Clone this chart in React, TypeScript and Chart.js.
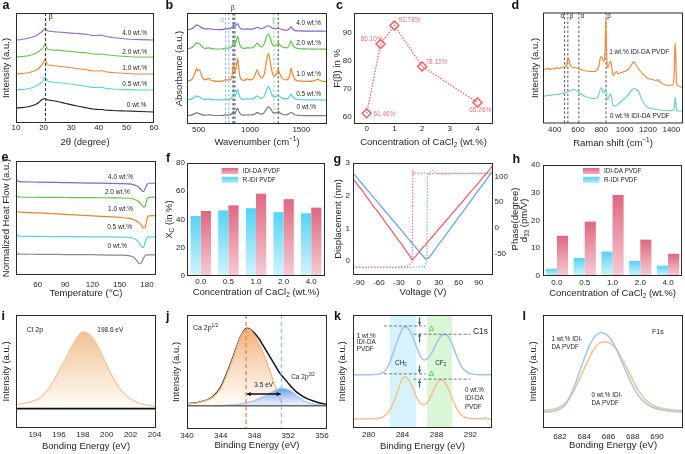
import React, { useEffect, useRef } from "react";
import { Chart, registerables } from "chart.js";

Chart.register(...registerables);

const FONT = "'Liberation Sans', Arial, Helvetica, sans-serif";
const INK = "#1e1e1e";

/* ---------------- a : XRD ---------------- */
const aTicks = [10, 20, 30, 40, 50, 60];
const aX = [10, 12, 14, 16, 17, 18, 19, 19.8, 20.5, 21, 21.7, 23, 25, 28, 32, 36, 38, 40, 41, 42, 45, 50, 55, 60];
const aY00 = [15, 15.3, 16, 17.5, 18.5, 20, 22.5, 24, 24.5, 23.5, 23, 22.5, 21.5, 19.5, 17, 15, 14, 13.5, 13.5, 13, 12.5, 12, 11.5, 11];
const aY05 = [33, 33.3, 34, 35.5, 36.5, 38, 40, 42, 46, 44, 41.5, 41, 40.5, 39.5, 38, 36.5, 35.5, 35.5, 35.8, 35, 34, 33.3, 33, 33];
const aY10 = [49, 49.3, 50, 51.5, 52.5, 54, 57, 60, 64, 61, 58, 57.5, 57, 56, 54.5, 53, 52, 52, 52.5, 51.5, 50.5, 49.5, 49, 49];
const aY20 = [66, 66.3, 67, 68.5, 69.5, 71, 73, 75, 79, 76, 73.5, 73, 72.8, 72, 71, 70, 69, 68.8, 69, 68.5, 67.5, 66.5, 66, 66];
const aY40 = [83, 83.5, 84.5, 86, 87, 88.5, 90.5, 92.5, 95, 93, 92, 91.5, 91, 90.3, 89.5, 88.5, 87.5, 87.5, 88, 87, 85.5, 84, 83.3, 83];

/* ---------------- b : FTIR ---------------- */
const bTicks = [500, 1000, 1500];
const bX = [390, 420, 450, 470, 480, 490, 510, 530, 560, 600, 615, 640, 700, 740, 765, 780, 795, 810, 825, 840, 855, 870, 880, 895, 910, 940, 975, 1000, 1030, 1050, 1070, 1085, 1110, 1140, 1160, 1180, 1200, 1220, 1235, 1260, 1275, 1290, 1320, 1360, 1385, 1400, 1415, 1440, 1500, 1560, 1620, 1660, 1700, 1750];
const bY00 = [8.5, 8.7, 9.8, 10.8, 11.3, 10.8, 10.3, 9.3, 8.8, 9.2, 9, 8.7, 8.5, 8.6, 9, 8.8, 9, 9.2, 10.5, 12.5, 11, 14, 15.7, 12, 9.5, 8.8, 9.2, 9, 9.3, 10, 11.5, 10.8, 9.8, 11.5, 15, 17.3, 15, 12, 11, 11.3, 12.3, 11.3, 9.5, 9.2, 10.5, 11.7, 10.8, 9, 8.5, 8.3, 8.3, 8.4, 8.3, 8.2];
const bY05 = [24.3, 24.5, 26, 27.5, 28, 27.5, 27, 25.5, 24.5, 25, 24.5, 24.2, 24, 24.2, 24.8, 24.5, 24.8, 25, 27, 30.5, 28, 32, 34.5, 29, 25.5, 24.5, 25, 24.8, 25.2, 26.5, 28, 27, 25.5, 28, 34, 37.3, 33, 28, 27, 27.5, 29, 27.5, 25.5, 25, 27, 29.7, 27.5, 25, 24.2, 24, 24, 24.2, 24, 23.8];
const bY10 = [43, 43.5, 47, 53, 55.5, 53, 54, 48, 44, 45.5, 44, 43, 42.5, 43, 44.5, 43.5, 44.5, 44, 48, 59.5, 52, 58, 65.5, 52, 45, 43.5, 45, 44, 45, 49, 54, 50, 46, 50, 62, 70.5, 60, 50, 48, 50, 54.5, 50, 45, 44, 48, 55.5, 50, 44, 42.8, 42.5, 43, 44.5, 42.8, 42.5];
const bY20 = [75, 75.5, 77.5, 80, 81.3, 80.5, 80, 77.5, 75.5, 76, 75.5, 75, 74.8, 75, 75.8, 75.5, 76, 76, 78, 82.3, 79, 84, 87.3, 81, 77, 75.5, 76, 75.8, 76.3, 78, 80.7, 79, 77, 80, 86.5, 90, 85, 79, 78, 79, 81.3, 79, 76.5, 76, 79, 83, 79.5, 76, 75, 74.8, 74.7, 74.8, 74.7, 74.6];
const bY40 = [94.2, 94.5, 96, 98, 99, 98.5, 97.5, 96, 94.8, 95, 94.8, 94.5, 94.2, 94.3, 95, 94.8, 95, 95.2, 96.5, 99, 97.5, 99.5, 100, 97, 95, 94.5, 94.8, 94.6, 94.8, 95.5, 96.5, 96, 95, 96, 97.5, 98, 97, 95.5, 95, 95.2, 95.8, 95, 94, 93.5, 95, 97, 95, 93.2, 92.8, 92.6, 92.6, 92.7, 92.6, 92.5];
const bAlphaLines = [763, 795, 858];
const bBetaLines = [835, 845, 1275];
const bGammaLines = [1234];

/* ---------------- c : F(beta) ---------------- */
const cTicksX = [0, 1, 2, 3, 4];
const cTicksY = [60, 70, 80, 90];
const cConc = [0, 0.5, 1, 2, 4];
const cFbeta = [61.46, 86.1, 92.78, 78.12, 65.26];

/* ---------------- d : Raman ---------------- */
const dTicks = [400, 600, 800, 1000, 1200, 1400];
const dOrX = [300, 320, 340, 360, 380, 400, 420, 440, 460, 480, 500, 510, 520, 530, 545, 560, 580, 600, 620, 650, 700, 740, 760, 780, 790, 800, 810, 820, 828, 834, 838, 842, 848, 855, 865, 875, 882, 890, 900, 915, 930, 945, 970, 1000, 1030, 1050, 1070, 1080, 1090, 1100, 1130, 1160, 1200, 1240, 1270, 1285, 1300, 1340, 1380, 1410, 1425, 1432, 1438, 1445, 1470, 1500];
const dOrY = [55, 54, 55.5, 54, 55, 54.5, 56, 55, 56.5, 56, 58, 63, 66, 60, 57, 55.5, 56, 55, 54, 53, 52, 52, 53, 58, 65, 67, 65, 62, 66, 80, 105, 90, 62, 56, 58, 62, 62, 55, 48, 50, 52, 50, 51, 52, 54, 57, 61, 62, 60, 58, 53, 49, 45, 44, 43, 44, 42, 39, 38, 38.5, 50, 81, 70, 40, 37, 36];
const dCyX = [300, 340, 380, 420, 460, 500, 530, 560, 590, 620, 660, 700, 740, 770, 785, 800, 812, 820, 830, 840, 845, 850, 860, 872, 880, 890, 900, 920, 950, 980, 1010, 1040, 1070, 1085, 1100, 1120, 1140, 1160, 1200, 1250, 1300, 1350, 1400, 1425, 1432, 1438, 1445, 1470, 1500];
const dCyY = [27, 28, 28.5, 29, 30, 31, 32.5, 34, 32.5, 30, 27, 25.5, 25, 26, 32, 36, 32, 30.5, 33, 33.5, 30, 24, 25, 29, 29.5, 24, 18, 17.5, 20, 23, 26, 30, 34.5, 35, 34, 32, 26, 21, 16, 14.5, 13.5, 13, 12.8, 15, 26, 22, 13, 12.5, 12.5];
const dLines = [485, 513, 607, 840];

/* ---------------- e : DSC ---------------- */
const eTicks = [60, 90, 120, 150, 180];
const eX = [36.5, 37, 40, 60, 90, 120, 150, 160, 165, 168, 170, 172, 174, 176, 178, 180, 182, 190];
const eY00 = [25.7, 21.3, 21, 20.8, 20.6, 20.4, 20, 19.5, 18, 15.5, 13, 11.4, 12.5, 16.5, 19.5, 20.2, 20.3, 20.3];
const eY05 = [44, 40, 39, 38.8, 38.6, 38.4, 38.2, 38, 37, 35.5, 34, 31.5, 28.5, 27.5, 33, 37.5, 38.3, 38.3];
const eY10 = [65.7, 64, 63.3, 62.5, 61, 59.5, 58, 57, 55.7, 54.5, 53.5, 52, 50, 47.5, 48, 56, 59.5, 59.7];
const eY20 = [80.7, 79, 78.5, 78.2, 78, 77.8, 77.5, 77.2, 76.5, 75.5, 74.5, 73, 71, 68.5, 69, 76, 78.2, 78.3];
const eY40 = [98, 95, 94, 93.5, 93, 92.5, 92, 91.7, 91, 90, 89, 87.5, 85.5, 84, 86.5, 91, 92.3, 92.3];

/* ---------------- f : crystallinity ---------------- */
const fCats = ["0.0", "0.5", "1.0", "2.0", "4.0"];
const fTicks = [0, 20, 40, 60, 80];
const fRIDI = [42.5, 46.5, 48, 45.2, 44.4];
const fIDIDA = [46, 50, 58.3, 54.4, 48.4];

/* ---------------- g : PFM butterfly ---------------- */
const gTicksX = [-90, -60, -30, 0, 30, 60, 90];
const gTicksY = [0, 1, 2, 3];
const gTicksY2 = [-50, 0, 50, 100];
const gV = [-99, -95, -90, -85, -80, -75, -70, -65, -60, -55, -50, -45, -40, -35, -30, -25, -20, -15, -10, -5, 0, 5, 10, 15, 20, 25, 30, 35, 40, 45, 50, 55, 60, 65, 70, 75, 80, 85, 90, 95, 100, 105, 110];
const gDispRed = [2.52, 2.42, 2.27, 2.16, 2.0, 1.87, 1.72, 1.6, 1.46, 1.33, 1.18, 1.05, 0.91, 0.76, 0.63, 0.5, 0.34, 0.2, 0.04, 0.15, 0.27, 0.4, 0.5, 0.63, 0.74, 0.86, 0.99, 1.1, 1.22, 1.33, 1.46, 1.57, 1.7, 1.8, 1.93, 2.05, 2.17, 2.28, 2.4, 2.53, 2.64, 2.76, 2.9];
const gDispBlue = [2.68, 2.6, 2.47, 2.36, 2.23, 2.12, 1.99, 1.88, 1.75, 1.64, 1.51, 1.4, 1.27, 1.16, 1.03, 0.92, 0.79, 0.67, 0.55, 0.43, 0.3, 0.19, 0.07, 0.1, 0.24, 0.38, 0.52, 0.65, 0.79, 0.93, 1.07, 1.21, 1.35, 1.48, 1.62, 1.76, 1.9, 2.04, 2.18, 2.31, 2.45, 2.59, 2.73];
const gPhRedX = [-99, -90, -80, -70, -60, -50, -40, -30, -25, -20, -15, -12, -10, -9, -8, -6, -3, 0, 10, 20, 30, 40, 50, 60, 70, 80, 90, 100, 110];
const gPhRedY = [-75.5, -75, -76, -75, -75.5, -75, -76, -75, -74.5, -73, -72, -68, -66, 112, 104, 107, 105, 106, 106, 104.5, 106, 105.5, 106, 106, 105.5, 106, 106, 106, 106];
const gPhBlueX = [-99, -90, -80, -70, -60, -50, -40, -30, -20, -10, 0, 5, 8, 10, 12, 13, 16, 20, 25, 30, 40, 50, 60, 70, 80, 90, 100, 110];
const gPhBlueY = [-76, -76.5, -76, -76.5, -76, -76, -76.5, -76, -76, -75.5, -75, -73, -76, -70, -60, 100, 108, 112, 106, 104, 104.5, 105, 105, 105, 105, 105, 105, 105];

/* ---------------- h : d33 ---------------- */
const hCats = ["0.0", "0.5", "1.0", "2.0", "4.0"];
const hTicks = [0, 10, 20, 30, 40];
const hRIDI = [2.6, 6.5, 8.8, 5.4, 3.7];
const hIDIDA = [14.5, 19.6, 29.2, 13.1, 8];

/* ---------------- i : Cl 2p ---------------- */
const iTicks = [194, 196, 198, 200, 202, 204];
const iX = [192.4, 193, 194, 194.5, 195, 195.5, 196, 196.5, 197, 197.5, 198, 198.5, 199, 199.5, 200, 200.5, 201, 201.5, 202, 202.5, 203, 203.5, 204.1];
const iY = [23.5, 24.5, 27.5, 31, 37, 46, 57, 68, 80, 90, 95.8, 94, 87, 76, 63, 51, 41, 34, 29, 26, 23.8, 22.6, 21.7];
const iBase = 19.3;

/* ---------------- j : Ca 2p ---------------- */
const jTicks = [340, 344, 348, 352, 356];
const jX = [340, 341, 342, 343, 344, 345, 345.5, 346, 346.5, 347.1, 347.5, 348, 348.5, 349, 349.5, 350, 350.5, 351, 351.5, 352, 352.5, 353, 353.5, 354, 355, 356, 356.7];
const jEnv = [25.3, 26, 28, 32, 42, 62, 73, 85, 95, 101, 100, 96, 91, 84, 77, 70, 63, 56, 51, 46, 41, 37, 34, 31.5, 28, 25.5, 24.5];
const jOrX = [340, 341, 342, 343, 344, 345, 345.5, 346, 346.5, 347.1, 347.5, 348, 348.5, 349, 349.5, 350, 350.5, 351, 351.3];
const jOrY = [25.3, 26, 28, 31.5, 41, 61, 72, 84.5, 94.5, 100.5, 99.5, 94, 86, 77, 66, 54, 42, 30, 23.3];
const jBlX = [343, 344, 345, 346, 347, 348, 349, 350, 350.5, 351.2, 352, 352.5, 353, 353.5, 354, 355, 356, 356.7];
const jBlY = [23.3, 23.5, 24, 24.8, 26, 28.5, 32, 36.5, 39, 41, 39.5, 37, 33.5, 30, 27.5, 25, 24, 23.5];
const jBase = 23.3;
const jPeaks = [347, 351.2];

/* ---------------- k : C1s ---------------- */
const kTicks = [280, 284, 288, 292];
const kX = [278.15, 279, 280, 281, 281.5, 282, 282.5, 283, 283.5, 284, 284.3, 284.7, 285.2, 285.7, 286.2, 286.6, 287, 287.5, 288, 288.5, 288.9, 289.3, 289.8, 290.3, 290.8, 291.3, 292, 293, 293.5, 293.8, 294.1, 294.55];
const kY1 = [53.3, 53.3, 53.4, 53.8, 54.8, 58, 66, 78, 90, 99.5, 101.5, 99.5, 91, 80, 70.5, 68.3, 70, 76, 85, 92, 94, 92.5, 85, 74, 64, 58, 54.5, 53.5, 53.4, 53.4, 53.3, 53.3];
const kY0 = [9, 9, 9.2, 9.5, 10.5, 13, 18, 27, 39, 50, 51.5, 48.5, 40, 30, 24, 23.5, 26.5, 35, 44, 48.3, 46.5, 41, 31, 21, 14, 11, 9.5, 9.2, 9.3, 10.3, 9.2, 9];
const kBandCH2 = [282.5, 285.6];
const kBandCF2 = [286.9, 289.85];

/* ---------------- l : F1s ---------------- */
const lTicks = [682, 684, 686, 688, 690];
const lX = [680.6, 681, 681.5, 682, 682.5, 683, 683.5, 684, 684.5, 685, 685.4, 685.8, 686.2, 686.6, 687, 687.5, 688, 688.5, 689, 689.5, 690, 691, 692.15];
const lY1 = [15.8, 16.1, 17, 19, 24, 36, 52, 69, 84, 93, 95.3, 93.5, 88.5, 80, 69, 55, 42, 32, 25.5, 21.5, 19.3, 17, 16];
const lY0 = [17.5, 18, 19, 21, 25.5, 34, 46, 59, 72, 82, 85.5, 85.8, 84, 79.5, 71.5, 60, 48, 37, 29, 24, 21, 18.5, 17.3];

/* ---------------- helpers ---------------- */
type Seg = { t: string; s?: "sub" | "sup" };
const sub = (t: string): Seg => ({ t, s: "sub" });
const sup = (t: string): Seg => ({ t, s: "sup" });
const TX = (t: string): Seg[] => [{ t }];

function drawRich(ctx: any, segs: any, x: number, y: number, size: number, color: string, align = "center", rot = 0, bold = false) {
  const list: Seg[] = typeof segs === "string" ? [{ t: segs }] : segs;
  ctx.save();
  ctx.translate(x, y);
  ctx.rotate(rot);
  ctx.fillStyle = color;
  ctx.textBaseline = "middle";
  ctx.textAlign = "left";
  const font = (s: number) => `${bold ? "bold " : ""}${s}px ${FONT}`;
  let total = 0;
  const widths = list.map((sg) => {
    ctx.font = font(sg.s ? size * 0.68 : size);
    const w = ctx.measureText(sg.t).width;
    total += w;
    return w;
  });
  let cx = align === "left" ? 0 : align === "right" ? -total : -total / 2;
  list.forEach((sg, i) => {
    ctx.font = font(sg.s ? size * 0.68 : size);
    const dy = sg.s === "sub" ? size * 0.3 : sg.s === "sup" ? -size * 0.33 : 0;
    ctx.fillText(sg.t, cx, dy);
    cx += widths[i];
  });
  ctx.restore();
}

function H(c: any, yId = "y") {
  const ctx = c.ctx;
  const X = c.scales.x;
  const Y = c.scales[yId];
  const a = c.chartArea;
  const px = (v: number) => X.getPixelForValue(v);
  const py = (v: number) => Y.getPixelForValue(v);
  return {
    ctx,
    a,
    px,
    py,
    text(s: any, x: number, y: number, size = 6.5, color = INK, align = "center", bold = false) {
      drawRich(ctx, s, px(x), py(y), size, color, align, 0, bold);
    },
    vline(x: number, color: string, dash: number[] = [3, 2], w = 1) {
      ctx.save();
      ctx.strokeStyle = color;
      ctx.lineWidth = w;
      ctx.setLineDash(dash);
      ctx.beginPath();
      ctx.moveTo(px(x), a.top);
      ctx.lineTo(px(x), a.bottom);
      ctx.stroke();
      ctx.restore();
    },
    hline(y: number, x0: number, x1: number, color: string, dash: number[] = [], w = 1) {
      ctx.save();
      ctx.strokeStyle = color;
      ctx.lineWidth = w;
      ctx.setLineDash(dash);
      ctx.beginPath();
      ctx.moveTo(px(x0), py(y));
      ctx.lineTo(px(x1), py(y));
      ctx.stroke();
      ctx.restore();
    },
    band(x0: number, x1: number, color: string) {
      ctx.save();
      ctx.fillStyle = color;
      ctx.fillRect(px(x0), a.top, px(x1) - px(x0), a.bottom - a.top);
      ctx.restore();
    },
    arrow(x0: number, y0: number, x1: number, y1: number, color: string, w = 1.2, hs = 4, both = false) {
      const X0 = px(x0), Y0 = py(y0), X1 = px(x1), Y1 = py(y1);
      ctx.save();
      ctx.strokeStyle = color;
      ctx.fillStyle = color;
      ctx.lineWidth = w;
      ctx.setLineDash([]);
      ctx.beginPath();
      ctx.moveTo(X0, Y0);
      ctx.lineTo(X1, Y1);
      ctx.stroke();
      const head = (ax: number, ay: number, bx: number, by: number) => {
        const ang = Math.atan2(by - ay, bx - ax);
        ctx.beginPath();
        ctx.moveTo(bx, by);
        ctx.lineTo(bx - hs * Math.cos(ang - 0.5), by - hs * Math.sin(ang - 0.5));
        ctx.lineTo(bx - hs * Math.cos(ang + 0.5), by - hs * Math.sin(ang + 0.5));
        ctx.closePath();
        ctx.fill();
      };
      head(X0, Y0, X1, Y1);
      if (both) head(X1, Y1, X0, Y0);
      ctx.restore();
    },
  };
}

const pts = (xs: number[], ys: number[]) => xs.map((x, i) => ({ x, y: ys[i] }));
const ln = (xs: number[], ys: number[], color: string, extra: any = {}) => ({
  data: pts(xs, ys),
  borderColor: color,
  backgroundColor: color,
  borderWidth: 1.2,
  pointRadius: 0,
  tension: 0,
  cubicInterpolationMode: "monotone",
  fill: false,
  ...extra,
});

function vGrad(c: any, yTop: number, yBot: number, cTop: string, cBot: string, yId = "y") {
  const ch = c.chart;
  if (!ch.chartArea || !ch.scales[yId]) return cTop;
  const Y = ch.scales[yId];
  const g = ch.ctx.createLinearGradient(0, Y.getPixelForValue(yTop), 0, Y.getPixelForValue(yBot));
  g.addColorStop(0, cTop);
  g.addColorStop(1, cBot);
  return g;
}

const PK_T = "#e0687e";
const PK_B = "#f6ccd6";
const CY_T = "#55d3f5";
const CY_B = "#d0f4fd";

const barGrad = (top: string, bot: string) => (c: any) => {
  const ch = c.chart;
  if (!ch.chartArea || typeof c.raw !== "number") return top;
  const Y = ch.scales.y;
  const g = ch.ctx.createLinearGradient(0, Y.getPixelForValue(c.raw), 0, Y.getPixelForValue(0));
  g.addColorStop(0, top);
  g.addColorStop(1, bot);
  return g;
};

function legend2(ctx: any, x: number, y: number) {
  const items = [
    { t: "IDI-DA PVDF", top: PK_T, bot: "#f2aebd" },
    { t: "R-IDI PVDF", top: CY_T, bot: "#aeeafa" },
  ];
  items.forEach((it, i) => {
    const yy = y + i * 8.8;
    const g = ctx.createLinearGradient(0, yy, 0, yy + 6);
    g.addColorStop(0, it.top);
    g.addColorStop(1, it.bot);
    ctx.fillStyle = g;
    ctx.fillRect(x, yy, 16.5, 6);
    drawRich(ctx, it.t, x + 21, yy + 3.2, 6.3, INK, "left");
  });
}

const CONC: Seg[] = [{ t: "Concentration of CaCl" }, sub("2"), { t: " (wt.%)" }];
const fmt = (v: any) => String(v);

function mkScale(def: any, kind: "x" | "y" | "y2", size: number, pad: number) {
  const { ticks: tickVals, fmt: f, hideTicks, ...rest } = def;
  const sc: any = {
    ...rest,
    position: kind === "x" ? "bottom" : kind === "y" ? "left" : "right",
    grid: { display: false, drawTicks: false, tickLength: 0 },
    border: { display: false },
    title: { display: false },
    ticks: {
      display: !hideTicks,
      padding: pad,
      color: INK,
      font: { family: FONT, size: 8 },
      autoSkip: false,
      maxRotation: 0,
      minRotation: 0,
    },
    afterFit: (s: any) => {
      if (kind === "x") s.height = size;
      else s.width = size;
      s.paddingLeft = 0;
      s.paddingRight = 0;
      s.paddingTop = 0;
      s.paddingBottom = 0;
    },
  };
  if (f) sc.ticks.callback = (v: any) => f(v);
  if (tickVals) sc.afterBuildTicks = (s: any) => { s.ticks = tickVals.map((v: number) => ({ value: v })); };
  return sc;
}

/* ---------------- panel specs ---------------- */
const SPECS: any[] = [
  {
    id: "a", type: "line", canvas: [0, 0, 164, 150], area: [16, 13, 154, 123],
    xTitle: TX("2θ (degree)"), xTitleY: 142.8, yTitle: TX("Intensity (a.u.)"), yTitleX: 6, xPad: 0,
    x: { type: "linear", min: 10, max: 60, ticks: aTicks, fmt },
    y: { type: "linear", min: 0, max: 110, hideTicks: true },
    datasets: [ln(aX, aY00, "#222"), ln(aX, aY05, "#55d6dc"), ln(aX, aY10, "#f28a3a"), ln(aX, aY20, "#6cc64c"), ln(aX, aY40, "#9b6ad8")],
    after: (c: any) => {
      const h = H(c);
      h.vline(20.7, "#333", [3, 2], 1);
      h.text("β", 22.6, 106, 7.5);
      h.text("4.0 wt.%", 53, 90);
      h.text("2.0 wt.%", 53, 71);
      h.text("1.0 wt.%", 53, 54.3);
      h.text("0.5 wt.%", 53, 38.3);
      h.text("0 wt.%", 53.7, 17.3);
    },
  },
  {
    id: "b", type: "line", canvas: [171, 0, 165, 150], area: [187, 13, 327, 124],
    xTitle: [{ t: "Wavenumber (cm" }, sup("−1"), { t: ")" }], xTitleY: 142.8, yTitle: TX("Absorbance (a.u.)"), yTitleX: 179, xPad: 0.5,
    x: { type: "linear", min: 387, max: 1750, ticks: bTicks, fmt },
    y: { type: "linear", min: 0, max: 110.7, hideTicks: true },
    datasets: [ln(bX, bY00, "#7a7a7a"), ln(bX, bY05, "#52cfd8"), ln(bX, bY10, "#f2862e"), ln(bX, bY20, "#5ec44a"), ln(bX, bY40, "#8c5fd0")],
    before: (c: any) => {
      const h = H(c);
      bAlphaLines.forEach((v) => h.vline(v, "#7fb6ee", [2.5, 2], 1));
      bBetaLines.forEach((v) => h.vline(v, "#444", [2.5, 2], 1));
      bGammaLines.forEach((v) => h.vline(v, "#8fdc8f", [2.5, 2], 1));
    },
    after: (c: any) => {
      const h = H(c);
      h.text("α", 728, 104, 6.5, "#7fb6ee");
      h.text("β", 833, 115.7, 7, "#333");
      h.text("γ", 1228, 104, 6.5, "#7fcf7f");
      h.text("4.0 wt.%", 1571, 101);
      h.text("2.0 wt.%", 1571, 80.7);
      h.text("1.0 wt.%", 1571, 50);
      h.text("0.5 wt.%", 1571, 30);
      h.text("0 wt.%", 1548, 16.3);
    },
  },
  {
    id: "c", type: "line", canvas: [330, 0, 172, 150], area: [354, 13, 493, 124],
    xTitle: CONC, xTitleY: 142.3, yTitle: TX("F(β) in %"), yTitleX: 337.7, xPad: 0, yPad: 2.3,
    x: { type: "linear", min: -0.46, max: 4.56, ticks: cTicksX, fmt },
    y: { type: "linear", min: 57.6, max: 97.2, ticks: cTicksY, fmt },
    datasets: [
      {
        data: pts(cConc, cFbeta), borderColor: "#f25c5c", borderWidth: 1.2, borderDash: [1.5, 1.5], tension: 0,
        pointStyle: "rectRot", pointRadius: 4.5, pointBorderWidth: 1.4, pointBackgroundColor: "rgba(255,255,255,0)", pointBorderColor: "#f25c5c",
      },
    ],
    after: (c: any) => {
      const h = H(c);
      const col = "#f07272";
      const lab = (i: number) => cFbeta[i].toFixed(2) + "%";
      h.text(lab(0), 0.24, 61, 6.5, col, "left");
      h.text(lab(1), 0.18, 88, 6.5, col);
      h.text(lab(2), 1.15, 94.8, 6.5, col, "left");
      h.text(lab(3), 2.12, 79.8, 6.5, col, "left");
      h.text(lab(4), 4.1, 62.4, 6.5, col);
    },
  },
  {
    id: "d", type: "line", canvas: [525, 0, 160, 150], area: [543, 12.5, 683, 123.5],
    xTitle: [{ t: "Raman shift (cm" }, sup("−1"), { t: ")" }], xTitleY: 143.2, yTitle: TX("Intensity (a.u.)"), yTitleX: 535, xPad: 1.7,
    x: { type: "linear", min: 300, max: 1500, ticks: dTicks, fmt },
    y: { type: "linear", min: 0, max: 111, hideTicks: true },
    datasets: [ln(dOrX, dOrY, "#f08a3c"), ln(dCyX, dCyY, "#6ccfd0")],
    before: (c: any) => {
      const h = H(c);
      dLines.forEach((v) => h.vline(v, "#555", [2.5, 2], 1));
    },
    after: (c: any) => {
      const h = H(c);
      h.text("α", 466, 107.5, 6.5);
      h.text("β", 543, 107.5, 6.5);
      h.text("α", 637, 107.5, 6.5);
      h.text("β", 866, 107.5, 6.5);
      h.text("1 wt.% IDI-DA PVDF", 1124, 71);
      h.text("0 wt.% IDI-DA PVDF", 1130, 7);
    },
  },
  {
    id: "e", type: "line", canvas: [0, 150, 164, 150], area: [16, 161, 156, 275],
    xTitle: TX("Temperature (°C)"), xTitleY: 293.5, yTitle: TX("Normalized Heat Flow (a.u.)"), yTitleX: 6, xPad: 4.8,
    x: { type: "linear", min: 36, max: 190, ticks: eTicks, fmt },
    y: { type: "linear", min: 0, max: 114.7, hideTicks: true },
    datasets: [ln(eX, eY00, "#8a8a8a"), ln(eX, eY05, "#55d3d8"), ln(eX, eY10, "#f0822e"), ln(eX, eY20, "#62c44c"), ln(eX, eY40, "#8c60d2")],
    after: (c: any) => {
      const h = H(c);
      h.text("4.0 wt.%", 151, 98);
      h.text("2.0 wt.%", 147.5, 83.3);
      h.text("1.0 wt.%", 151, 66.3);
      h.text("0.5 wt.%", 150, 48);
      h.text("0 wt.%", 147.5, 29);
    },
  },
  {
    id: "f", type: "bar", canvas: [160, 150, 172, 150], area: [187, 163, 325, 276],
    xTitle: CONC, xTitleY: 292.3, yTitle: [{ t: "X" }, sub("C"), { t: " (in %)" }], yTitleX: 169, xPad: 1.2, yPad: 2,
    labels: fCats,
    x: { type: "category", offset: true },
    y: { type: "linear", min: 0, max: 80, ticks: fTicks, fmt },
    datasets: [
      { label: "R-IDI PVDF", data: fRIDI, backgroundColor: barGrad(CY_T, CY_B), categoryPercentage: 0.74, barPercentage: 1 },
      { label: "IDI-DA PVDF", data: fIDIDA, backgroundColor: barGrad(PK_T, PK_B), categoryPercentage: 0.74, barPercentage: 1 },
    ],
    after: (c: any, o: any) => legend2(c.ctx, 221.7 - o.x, 168 - o.y),
  },
  {
    id: "g", type: "line", canvas: [330, 150, 195, 150], area: [353, 163, 493, 275],
    xTitle: TX("Voltage (V)"), xTitleY: 292.3, yTitle: TX("Displacement (nm)"), yTitleX: 338, y2Title: TX("Phase(degree)"), y2TitleX: 515,
    xPad: 2.5, yPad: 3, y2Pad: 1.5,
    x: { type: "linear", min: -99, max: 111.5, ticks: gTicksX, fmt },
    y: { type: "linear", min: -0.42, max: 3.0, ticks: gTicksY, fmt },
    y2: { type: "linear", min: -90.5, max: 125.7, ticks: gTicksY2, fmt },
    datasets: [
      ln(gV, gDispRed, "#f0606a", { cubicInterpolationMode: "default", borderWidth: 1.3 }),
      ln(gV, gDispBlue, "#62a6f2", { cubicInterpolationMode: "default", borderWidth: 1.3 }),
      ln(gPhRedX, gPhRedY, "#f07a82", { cubicInterpolationMode: "default", borderDash: [1.5, 1.5], yAxisID: "y2" }),
      ln(gPhBlueX, gPhBlueY, "#7ab4f2", { cubicInterpolationMode: "default", borderDash: [1.5, 1.5], yAxisID: "y2" }),
    ],
  },
  {
    id: "h", type: "bar", canvas: [515, 150, 170, 150], area: [543, 165, 682, 276],
    xTitle: CONC, xTitleY: 293, yTitle: [{ t: "d" }, sub("33"), { t: " (pm/V)" }], yTitleX: 524, xPad: 2.2, yPad: 3,
    labels: hCats,
    x: { type: "category", offset: true },
    y: { type: "linear", min: 0, max: 40, ticks: hTicks, fmt },
    datasets: [
      { label: "R-IDI PVDF", data: hRIDI, backgroundColor: barGrad(CY_T, CY_B), categoryPercentage: 0.8, barPercentage: 1 },
      { label: "IDI-DA PVDF", data: hIDIDA, backgroundColor: barGrad(PK_T, PK_B), categoryPercentage: 0.8, barPercentage: 1 },
    ],
    after: (c: any, o: any) => legend2(c.ctx, 583 - o.x, 168 - o.y),
  },
  {
    id: "i", type: "line", canvas: [0, 300, 164, 154], area: [16, 315, 156, 428],
    xTitle: TX("Bonding Energy (eV)"), xTitleY: 446.5, yTitle: TX("Intensity (a.u.)"), yTitleX: 6.7, xPad: 2.2,
    x: { type: "linear", min: 192.4, max: 204.13, ticks: iTicks, fmt },
    y: { type: "linear", min: 0, max: 112.7, hideTicks: true },
    datasets: [
      ln(iX, iY, "#f2c89c", {
        fill: { value: iBase },
        backgroundColor: (c: any) => vGrad(c, 96, iBase, "rgba(240,190,140,0.95)", "rgba(255,252,248,0.9)"),
      }),
    ],
    after: (c: any) => {
      const h = H(c);
      h.hline(iBase, 192.4, 204.13, "#111", [], 1.8);
      h.text("Cl 2p", 193.3, 98, 7, INK, "left");
      h.text("198.6 eV", 200.3, 98, 6.5);
    },
  },
  {
    id: "j", type: "line", canvas: [168, 300, 166, 154], area: [187, 315, 327, 429],
    xTitle: TX("Binding Energy (eV)"), xTitleY: 445.8, yTitle: TX("Intensity (a.u.)"), yTitleX: 176.7, xPad: 1.9,
    x: { type: "linear", min: 340, max: 356.6, ticks: jTicks, fmt },
    y: { type: "linear", min: 0, max: 114.3, hideTicks: true },
    datasets: [
      ln(jBlX, jBlY, "#a9c6f2", {
        fill: { value: jBase },
        backgroundColor: (c: any) => vGrad(c, 41, jBase, "rgba(92,145,235,0.95)", "rgba(220,232,252,0.5)"),
      }),
      ln(jOrX, jOrY, "#f2b67c", {
        fill: { value: jBase },
        backgroundColor: (c: any) => vGrad(c, 100, jBase, "rgba(238,172,112,0.95)", "rgba(255,248,240,0.6)"),
      }),
      ln(jX, jEnv, "#111", { borderWidth: 1.5 }),
    ],
    after: (c: any) => {
      const h = H(c);
      h.hline(jBase, 340, 356.6, "#666", [], 1.5);
      h.vline(jPeaks[0], "#f08a50", [4, 3], 1.4);
      h.vline(jPeaks[1], "#92c6f2", [4, 3], 1.4);
      h.arrow(jPeaks[0] + 0.1, 35, jPeaks[1] - 0.1, 35, "#111", 1.5, 4.5, true);
      h.text("3.5 eV", 349.1, 44.3, 6.5);
      h.text([{ t: "Ca 2p" }, sup("1/2")], 340.7, 101, 7, INK, "left");
      h.text([{ t: "Ca 2p" }, sup("3/2")], 352.35, 52, 6.5, INK, "left");
    },
  },
  {
    id: "k", type: "line", canvas: [334, 300, 166, 154], area: [353, 315, 492, 428],
    xTitle: TX("Binding Energy (eV)"), xTitleY: 446, yTitle: TX("Intensity (a.u.)"), yTitleX: 342, xPad: 2.2,
    x: { type: "linear", min: 278.15, max: 294.55, ticks: kTicks, fmt },
    y: { type: "linear", min: 0, max: 113.3, hideTicks: true },
    datasets: [ln(kX, kY1, "#9fc3f3", { borderWidth: 1.5 }), ln(kX, kY0, "#f2c08e", { borderWidth: 1.5 })],
    before: (c: any) => {
      const h = H(c);
      h.band(kBandCH2[0], kBandCH2[1], "#d6f3fb");
      h.band(kBandCF2[0], kBandCF2[1], "#d9f7d6");
    },
    after: (c: any) => {
      const h = H(c);
      const dc = "#555";
      h.hline(102.3, 281.8, 286.7, dc, [3, 2], 0.8);
      h.hline(94, 285.3, 292.0, dc, [3, 2], 0.8);
      h.hline(54.3, 281.8, 286.7, dc, [3, 2], 0.8);
      h.hline(49, 285.3, 292.0, dc, [3, 2], 0.8);
      const ac = "#2e6d8c";
      h.arrow(286.0, 111, 286.0, 103.2, ac, 1.2, 3.5);
      h.arrow(286.0, 85.7, 286.0, 94.8, ac, 1.2, 3.5);
      h.arrow(286.0, 62.7, 286.0, 55.2, ac, 1.2, 3.5);
      h.arrow(286.0, 40.7, 286.0, 48.2, ac, 1.2, 3.5);
      h.text("Δ", 287.4, 99, 8, "#3cc24a");
      h.text("Δ", 287.4, 54.3, 8, "#3cc24a");
      h.text([{ t: "CH" }, sub("2")], 283.8, 65, 6.5);
      h.text([{ t: "CF" }, sub("2")], 288.5, 65, 6.5);
      h.text("1 wt.%", 278.6, 91.7, 6.3, INK, "left");
      h.text("IDI-DA", 278.6, 85.5, 6.3, INK, "left");
      h.text("PVDF", 278.6, 79, 6.3, INK, "left");
      h.text("0 wt.%", 291.35, 37.7, 6.3, INK, "left");
      h.text("IDI-DA", 291.35, 29.5, 6.3, INK, "left");
      h.text("PVDF", 291.35, 21.2, 6.3, INK, "left");
      h.text("C1s", 292.3, 96.7, 8.5, INK, "left");
    },
  },
  {
    id: "l", type: "line", canvas: [525, 300, 160, 154], area: [543, 315, 683, 428],
    xTitle: TX("Bonding Energy (eV)"), xTitleY: 445.8, yTitle: TX("Intensity (a.u.)"), yTitleX: 533, xPad: 3.9,
    x: { type: "linear", min: 680.6, max: 692.15, ticks: lTicks, fmt },
    y: { type: "linear", min: 0, max: 112.7, hideTicks: true },
    datasets: [ln(lX, lY1, "#a6c6f5", { borderWidth: 1.6 }), ln(lX, lY0, "#f0c48e", { borderWidth: 1.6 })],
    after: (c: any) => {
      const h = H(c);
      h.text("F1s", 689.6, 96, 7, INK, "left");
      h.text("1 wt.% IDI-", 681.3, 88.7, 6.3, INK, "left");
      h.text("DA PVDF", 681.3, 80.3, 6.3, INK, "left");
      h.text("0 wt.% IDI-", 684.6, 32.7, 6.3, INK, "left");
      h.text("DA PVDF", 684.6, 24.3, 6.3, INK, "left");
    },
  },
];

const LETTERS: [string, number, number][] = [
  ["a", 2.5, 9.3], ["b", 165.5, 9.3], ["c", 336, 9.3], ["d", 511.5, 9.3],
  ["e", 1.5, 161.3], ["f", 166, 162.5], ["g", 333.5, 163], ["h", 512.5, 163],
  ["i", 1.5, 320], ["j", 166, 320.5], ["k", 334, 320.7], ["l", 522.5, 320.7],
];

function build(cv: HTMLCanvasElement, s: any) {
  const [cl, ct, cw, ch] = s.canvas;
  const [L, Tp, R, B] = s.area;
  const yW = L - cl;
  const xH = ct + ch - B;
  const padTop = Tp - ct;
  const rightSpace = cl + cw - R;
  const scales: any = {
    x: mkScale(s.x, "x", xH, s.xPad),
    y: mkScale(s.y, "y", yW, s.yPad ?? 2),
  };
  if (s.y2) scales.y2 = mkScale(s.y2, "y2", rightSpace, s.y2Pad ?? 2);
  const off = { x: cl, y: ct };
  const deco = {
    id: "deco" + s.id,
    beforeDatasetsDraw(c: any) {
      if (s.before) s.before(c, off);
    },
    afterDraw(c: any) {
      const ctx = c.ctx;
      const a = c.chartArea;
      if (s.after) s.after(c, off);
      ctx.save();
      ctx.strokeStyle = "#2a2a2a";
      ctx.lineWidth = 1;
      ctx.setLineDash([]);
      ctx.strokeRect(a.left + 0.5, a.top + 0.5, a.right - a.left - 1, a.bottom - a.top - 1);
      ctx.restore();
      drawRich(ctx, s.xTitle, (a.left + a.right) / 2, s.xTitleY - ct, 9.5, INK, "center", 0);
      drawRich(ctx, s.yTitle, s.yTitleX - cl, (a.top + a.bottom) / 2, 9.5, INK, "center", -Math.PI / 2);
      if (s.y2Title) drawRich(ctx, s.y2Title, s.y2TitleX - cl, (a.top + a.bottom) / 2, 9.5, INK, "center", -Math.PI / 2);
    },
  };
  return new Chart(cv, {
    type: s.type,
    data: { labels: s.labels, datasets: s.datasets },
    options: {
      responsive: false,
      maintainAspectRatio: false,
      animation: false,
      devicePixelRatio: 1,
      events: [],
      layout: { padding: { left: 0, top: padTop, right: s.y2 ? 0 : rightSpace, bottom: 0 } },
      plugins: { legend: { display: false }, tooltip: { enabled: false } },
      scales,
    } as any,
    plugins: [deco],
  } as any);
}

export default function App() {
  const refs = useRef<(HTMLCanvasElement | null)[]>([]);
  useEffect(() => {
    const charts = SPECS.map((s, i) => build(refs.current[i] as HTMLCanvasElement, s));
    return () => charts.forEach((c) => c.destroy());
  }, []);
  return (
    <div style={{ position: "relative", width: 685, height: 454, overflow: "hidden", background: "#fff" }}>
      <style>{"body{margin:0;background:#fff}"}</style>
      {SPECS.map((s, i) => (
        <canvas
          key={s.id}
          ref={(el) => {
            refs.current[i] = el;
          }}
          width={s.canvas[2]}
          height={s.canvas[3]}
          style={{ position: "absolute", left: s.canvas[0], top: s.canvas[1], width: s.canvas[2], height: s.canvas[3] }}
        />
      ))}
      {LETTERS.map(([t, x, y]) => (
        <div
          key={t}
          style={{ position: "absolute", left: x, top: y - 10.4, font: `bold 12.5px ${FONT}`, lineHeight: "12.5px", color: "#111" }}
        >
          {t}
        </div>
      ))}
    </div>
  );
}
